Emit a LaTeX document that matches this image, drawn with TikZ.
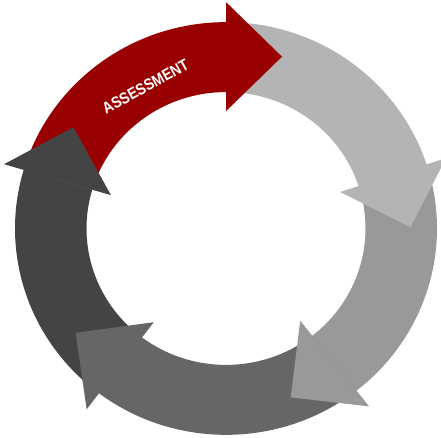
\documentclass[tikz,border=0pt]{standalone}
\usepackage{fontspec}
\setmainfont{Liberation Sans}
\definecolor{arrRed}{HTML}{990000}
\definecolor{arrLight}{HTML}{B4B4B4}
\definecolor{arrMid}{HTML}{999999}
\definecolor{arrDark}{HTML}{666666}
\definecolor{arrDarkest}{HTML}{444444}
\newcommand\cycband[3]{\fill[#3] (#1:211pt) arc[start angle=#1, end angle=#2, radius=211pt] -- (#2:139.5pt) arc[start angle=#2, end angle=#1, radius=139.5pt] -- cycle;}
\newcommand\cychead[2]{\fill[#2] (#1:120pt) -- (#1:231.5pt) -- ({#1-17.67}:184.4pt) -- cycle;}
\begin{document}
\begin{tikzpicture}[x=1pt,y=1pt]
\useasboundingbox (0,0) rectangle (441,438);
\begin{scope}[shift={(226,209.5)}, yscale=0.978]
  % bands
  \cycband{163.5}{90}{arrRed}
  \cycband{90}{18.1}{arrLight}
  \cycband{18.1}{-51.8}{arrMid}
  \cycband{-51.8}{-127}{arrDark}
  \cycband{-127}{-196.5}{arrDarkest}
  % heads
  \cychead{90}{arrRed}
  \cychead{18.1}{arrLight}
  \cychead{-51.8}{arrMid}
  \cychead{-127}{arrDark}
  \cychead{-196.5}{arrDarkest}
  % label
  \node[text=white, font=\bfseries\fontsize{16}{16}\selectfont, rotate=29, inner sep=0pt] (assess) at (119:166pt) {\scalebox{0.87}[1]{ASSESSMENT}};
\end{scope}
\end{tikzpicture}
\end{document}
